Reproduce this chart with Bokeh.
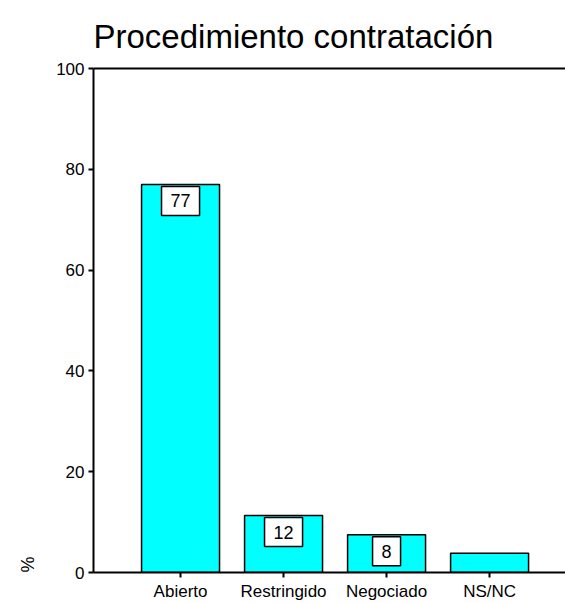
from bokeh.plotting import figure
from bokeh.models import Range1d, FixedTicker, LinearAxis, Title, Label, ColumnDataSource
from bokeh.embed import file_html
from bokeh.resources import INLINE

categories = ["Abierto", "Restringido", "Negociado", "NS/NC"]
values = [77.0, 11.3, 7.5, 3.8]
bar_labels = ["77", "12", "8", ""]
y_ticks = [0, 20, 40, 60, 80, 100]
title_text = "Procedimiento contratación"
y_unit = "%"

FONT = "Liberation Sans"
xs = list(range(1, len(categories) + 1))

p = figure(width=565, height=603, output_backend="svg", toolbar_location=None,
           x_range=Range1d(0.155, 4.737), y_range=Range1d(0, 100),
           min_border_left=93, min_border_right=0, min_border_top=68,
           min_border_bottom=30, title=None)
p.outline_line_color = None
p.xgrid.visible = False
p.ygrid.visible = False
p.background_fill_color = "white"
p.border_fill_color = "white"

src = ColumnDataSource(dict(x=xs, top=values, cat=categories))
p.vbar(x="x", top="top", width=0.757, source=src, fill_color="#00FFFF",
       line_color="black", line_width=1.5)

for ax in p.yaxis:
    ax.ticker = FixedTicker(ticks=y_ticks)
    ax.axis_line_width = 2
    ax.major_tick_line_width = 2
    ax.major_tick_out = 5
    ax.major_tick_in = 0
    ax.minor_tick_out = 0
    ax.minor_tick_in = 0
    ax.major_label_text_font = FONT
    ax.major_label_text_font_size = "17px"
    ax.major_label_text_color = "black"
    ax.major_label_standoff = 4

for ax in p.xaxis:
    ax.ticker = FixedTicker(ticks=xs)
    ax.major_label_overrides = {x: c for x, c in zip(xs, categories)}
    ax.axis_line_width = 2
    ax.major_tick_line_width = 2
    ax.major_tick_out = 5
    ax.major_tick_in = 0
    ax.minor_tick_out = 0
    ax.minor_tick_in = 0
    ax.major_label_text_font = FONT
    ax.major_label_text_font_size = "17px"
    ax.major_label_text_color = "black"
    ax.major_label_standoff = 4

top_axis = LinearAxis(ticker=FixedTicker(ticks=[]), axis_line_width=2,
                      major_tick_out=0, major_tick_in=0, minor_tick_out=0, minor_tick_in=0,
                      major_label_text_font_size="0px")
p.add_layout(top_axis, "above")

p.add_layout(Title(text=title_text, align="left",
                   text_font=FONT, text_font_size="33px", text_font_style="normal",
                   text_color="black", standoff=27), "above")

p.add_layout(Title(text=y_unit, align="left", vertical_align="top", text_font=FONT,
                   text_font_size="18px", text_font_style="normal",
                   text_color="black", standoff=28), "left")

for x, v, t in zip(xs, values, bar_labels):
    if t:
        p.add_layout(Label(x=x, y=v, text=t, text_align="center", text_baseline="top",
                           y_offset=-2, text_font=FONT, text_font_size="18px",
                           text_color="black", background_fill_color="white",
                           border_line_color="black", border_line_width=1.5,
                           padding=dict(left=9, right=9, top=8, bottom=8)))

open("out.html", "w").write(file_html(p, INLINE))
